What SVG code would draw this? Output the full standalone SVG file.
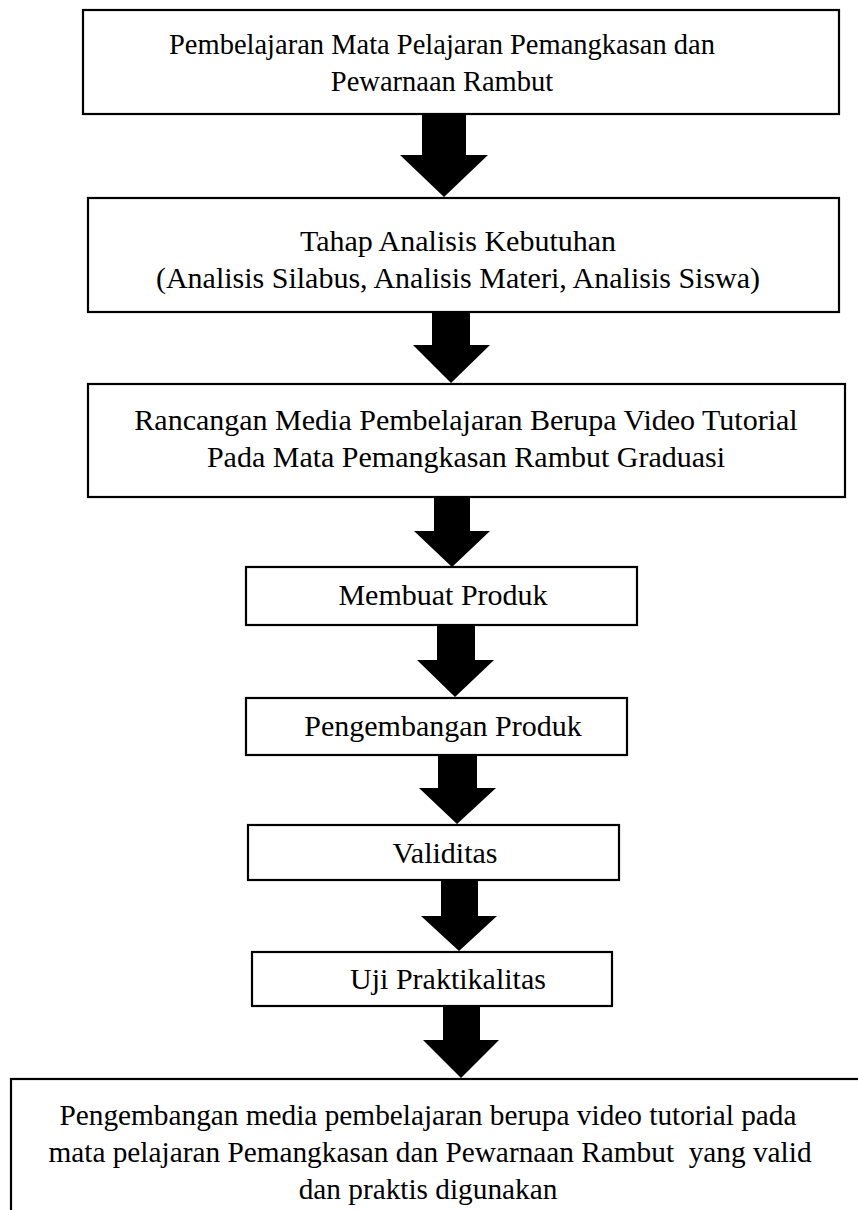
<svg xmlns="http://www.w3.org/2000/svg" width="858" height="1210" viewBox="0 0 858 1210">
<style>
.box{fill:#fff;stroke:#000;stroke-width:2.2}
.t{font-family:"Liberation Serif","Times New Roman",serif;font-size:30px;fill:#000;text-anchor:middle}
.s1{font-size:28.5px}
.s5{font-size:29.3px}
.arr{fill:#000}
</style>
<rect width="858" height="1210" fill="#fff"/>
<g id="connectors">
<polygon class="arr" points="422,114 466,114 466,155 488,155 444,197 400,155 422,155"/>
<polygon class="arr" points="432,312 470,312 470,345 490,345 451,383 413,345 432,345"/>
<polygon class="arr" points="434,497 470,497 470,531 490,531 452,567 414,531 434,531"/>
<polygon class="arr" points="437,625 475,625 475,660 494,660 455,697 417,660 437,660"/>
<polygon class="arr" points="438,755 477,755 477,788 496,788 457,824 419,788 438,788"/>
<polygon class="arr" points="441,880 478,880 478,916 497,916 459,951 421,916 441,916"/>
<polygon class="arr" points="443,1006 480,1006 480,1040 499,1040 461,1078 423,1040 443,1040"/>
</g>
<g id="n1">
<rect class="box" x="83" y="10" width="756" height="104"/>
<text class="t s1" x="442" y="54">Pembelajaran Mata Pelajaran Pemangkasan dan</text>
<text class="t s1" x="442" y="91">Pewarnaan Rambut</text>
</g>
<g id="n2">
<rect class="box" x="88" y="198" width="751" height="114"/>
<text class="t" x="458" y="251">Tahap Analisis Kebutuhan</text>
<text class="t" x="458" y="288">(Analisis Silabus, Analisis Materi, Analisis Siswa)</text>
</g>
<g id="n3">
<rect class="box" x="88" y="384" width="757" height="113"/>
<text class="t" x="466" y="430">Rancangan Media Pembelajaran Berupa Video Tutorial</text>
<text class="t" x="466" y="467">Pada Mata Pemangkasan Rambut Graduasi</text>
</g>
<g id="n4">
<rect class="box" x="246" y="567" width="391" height="58"/>
<text class="t" x="443" y="605">Membuat Produk</text>
</g>
<g id="n5">
<rect class="box" x="246" y="698" width="381" height="57"/>
<text class="t" x="443" y="736">Pengembangan Produk</text>
</g>
<g id="n6">
<rect class="box" x="248" y="825" width="371" height="55"/>
<text class="t" x="445" y="863">Validitas</text>
</g>
<g id="n7">
<rect class="box" x="252" y="952" width="360" height="54"/>
<text class="t" x="448" y="989">Uji Praktikalitas</text>
</g>
<g id="n8">
<rect class="box" x="11" y="1079" width="860" height="160"/>
<text class="t s5" x="428" y="1125">Pengembangan media pembelajaran berupa video tutorial pada</text>
<text class="t s5" x="430" y="1162" xml:space="preserve">mata pelajaran Pemangkasan dan Pewarnaan Rambut  yang valid</text>
<text class="t s5" x="428" y="1199">dan praktis digunakan</text>
</g>
</svg>
